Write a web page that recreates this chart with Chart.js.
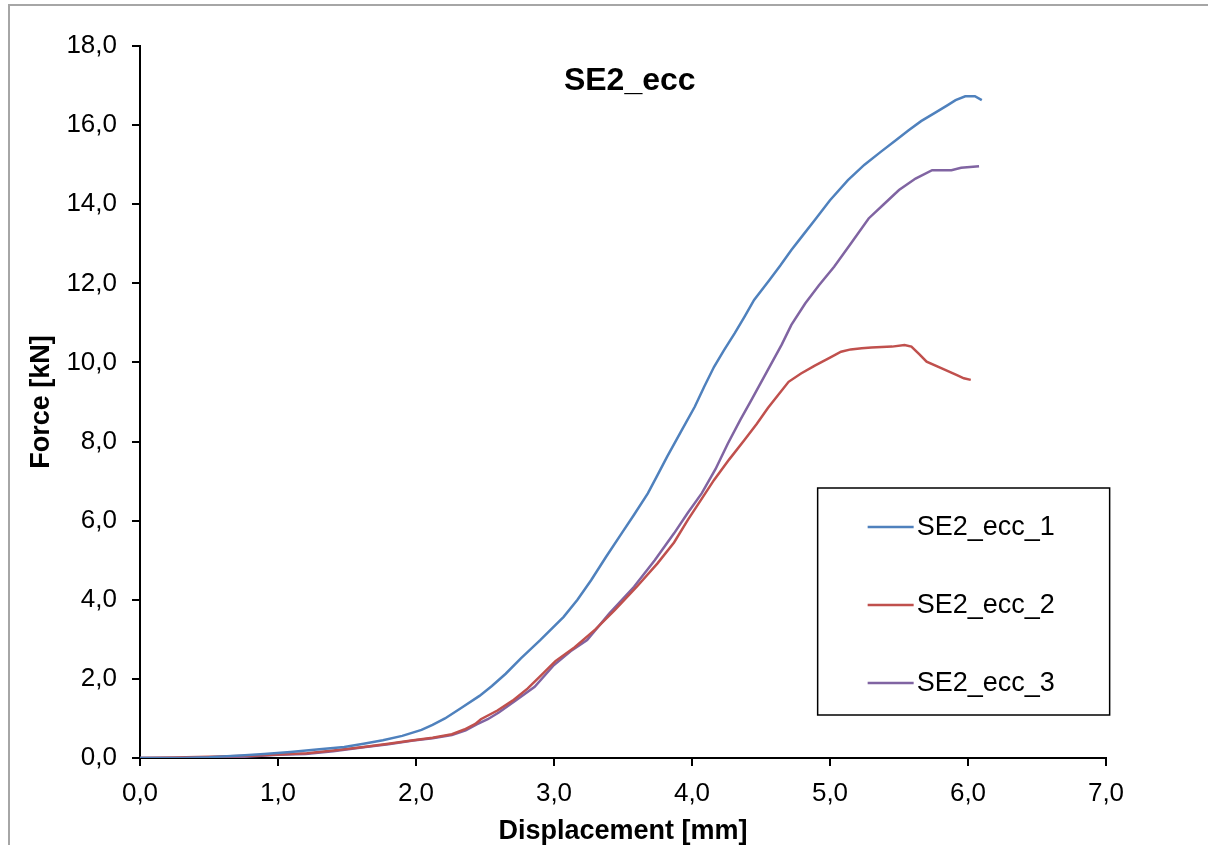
<!DOCTYPE html>
<html>
<head>
<meta charset="utf-8">
<script src="https://cdn.jsdelivr.net/npm/chart.js@4.4.1/dist/chart.umd.min.js"></script>
<style>
  html, body { margin: 0; padding: 0; background: #fff; }
  #wrap { position: relative; width: 1208px; height: 845px; overflow: hidden; }
  #frame { position: absolute; left: 8px; top: 4px; width: 1300px; height: 1000px; border-left: 2px solid #a6a6a6; border-top: 2px solid #a6a6a6; box-sizing: border-box; pointer-events: none; }
  canvas { position: absolute; left: 0; top: 0; }
</style>
</head>
<body>
<div id="wrap">
  <canvas id="c" width="1208" height="845"></canvas>
  <div id="frame"></div>
</div>
<script>
// ---- data ----
const chartTitle = "SE2_ecc";
const seriesNames = ["SE2_ecc_1", "SE2_ecc_2", "SE2_ecc_3"];
const seriesColors = ["#4F81BD", "#C0504D", "#8064A2"];
const xTitle = "Displacement [mm]";
const yTitle = "Force [kN]";

const disp1 = [0.00,0.30,0.50,0.76,0.90,1.09,1.30,1.48,1.62,1.76,1.90,2.04,2.12,2.21,2.33,2.46,2.55,2.65,2.76,2.90,3.07,3.17,3.27,3.38,3.49,3.58,3.68,3.75,3.82,3.92,4.02,4.09,4.16,4.23,4.31,4.38,4.45,4.56,4.64,4.72,4.80,4.89,5.00,5.13,5.25,5.37,5.47,5.57,5.66,5.76,5.85,5.91,5.98,6.05,6.10];
const force1 = [0.00,0.00,0.02,0.07,0.10,0.15,0.22,0.28,0.36,0.45,0.56,0.71,0.84,1.00,1.27,1.57,1.82,2.13,2.52,2.98,3.57,4.00,4.50,5.10,5.68,6.15,6.69,7.15,7.62,8.25,8.88,9.40,9.89,10.30,10.74,11.15,11.58,12.08,12.45,12.84,13.20,13.60,14.10,14.61,15.00,15.33,15.60,15.87,16.10,16.31,16.50,16.63,16.73,16.73,16.63];

const disp2 = [0.00,0.25,0.50,0.80,1.00,1.21,1.40,1.62,1.80,1.98,2.12,2.26,2.35,2.43,2.47,2.59,2.70,2.81,2.91,3.01,3.15,3.30,3.44,3.60,3.75,3.87,3.97,4.07,4.16,4.27,4.38,4.47,4.55,4.63,4.70,4.79,4.89,5.00,5.08,5.15,5.23,5.30,5.45,5.54,5.59,5.65,5.70,5.81,5.92,5.97,6.02];
const force2 = [0.00,0.01,0.03,0.06,0.09,0.12,0.19,0.28,0.36,0.45,0.51,0.60,0.72,0.86,0.98,1.20,1.45,1.76,2.10,2.45,2.80,3.25,3.74,4.33,4.92,5.45,6.02,6.55,7.03,7.55,8.04,8.45,8.85,9.20,9.51,9.72,9.92,10.12,10.27,10.33,10.36,10.38,10.40,10.44,10.40,10.20,10.02,9.85,9.68,9.60,9.56];

const disp3 = [0.00,0.30,0.55,0.75,1.00,1.20,1.40,1.62,1.80,1.98,2.12,2.26,2.36,2.44,2.52,2.60,2.72,2.86,3.00,3.12,3.24,3.40,3.58,3.73,3.87,3.97,4.07,4.17,4.26,4.35,4.43,4.54,4.65,4.72,4.82,4.92,5.03,5.15,5.28,5.39,5.50,5.62,5.74,5.88,5.95,6.08];
const force3 = [0.00,0.00,0.02,0.03,0.08,0.10,0.17,0.27,0.35,0.44,0.50,0.58,0.70,0.85,0.98,1.15,1.45,1.80,2.35,2.70,2.98,3.65,4.33,5.00,5.68,6.20,6.69,7.30,7.95,8.55,9.05,9.75,10.45,10.95,11.49,11.95,12.42,13.00,13.64,14.00,14.36,14.65,14.86,14.86,14.92,14.96];

const xMin = 0, xMax = 7, xStep = 1;
const yMin = 0, yMax = 18, yStep = 2;

// ---- build ----
const FONT = "'Liberation Sans', Arial, sans-serif";
function pts(xs, ys) { return xs.map((x, i) => ({ x: x, y: ys[i] })); }
const allX = [disp1, disp2, disp3];
const allY = [force1, force2, force3];
const datasets = seriesNames.map((n, i) => ({
  label: n,
  data: pts(allX[i], allY[i]),
  borderColor: seriesColors[i],
  backgroundColor: seriesColors[i],
  borderWidth: 2.5,
  pointRadius: 0,
  showLine: true,
  tension: 0
}));
const fmt = v => Number(v).toFixed(1).replace('.', ',');

const titlePlugin = {
  id: 'inTitle',
  afterDraw(chart) {
    const ctx = chart.ctx, a = chart.chartArea;
    ctx.save();
    ctx.font = "bold 32px " + FONT;
    ctx.fillStyle = "#000";
    ctx.textAlign = "center";
    ctx.textBaseline = "middle";
    ctx.fillText(chartTitle, a.left + (a.right - a.left) * 0.507, a.top + 35);
    ctx.restore();
  }
};

const legendPlugin = {
  id: 'boxLegend',
  afterDraw(chart) {
    const ctx = chart.ctx, a = chart.chartArea;
    const bx = a.left + (a.right - a.left) * 0.7015, by = a.top + 442, bw = 292, bh = 227;
    ctx.save();
    ctx.strokeStyle = "#000";
    ctx.lineWidth = 1.5;
    ctx.strokeRect(bx, by, bw, bh);
    ctx.font = "27px " + FONT;
    ctx.textBaseline = "middle";
    ctx.textAlign = "left";
    chart.data.datasets.forEach((ds, i) => {
      const y = by + 39 + i * 78;
      ctx.strokeStyle = ds.borderColor;
      ctx.lineWidth = 2.5;
      ctx.beginPath();
      ctx.moveTo(bx + 50, y);
      ctx.lineTo(bx + 96, y);
      ctx.stroke();
      ctx.fillStyle = "#000";
      ctx.fillText(ds.label, bx + 99, y + 1);
    });
    ctx.restore();
  }
};

new Chart(document.getElementById('c'), {
  type: 'scatter',
  data: { datasets: datasets },
  options: {
    responsive: false,
    animation: false,
    devicePixelRatio: 1,
    layout: { padding: { left: 8, top: 46, right: 102, bottom: 0 } },
    plugins: { legend: { display: false }, title: { display: false }, tooltip: { enabled: false } },
    scales: {
      x: {
        type: 'linear', min: xMin, max: xMax,
        ticks: { stepSize: xStep, callback: fmt, color: '#000', font: { family: FONT, size: 26 }, padding: 12, maxRotation: 0 },
        grid: { drawOnChartArea: false, drawTicks: true, tickLength: 8, color: '#000', lineWidth: 2 },
        border: { color: '#000', width: 2 },
        title: { display: true, text: xTitle, color: '#000', font: { family: FONT, size: 27, weight: 'bold', lineHeight: 1 }, padding: { top: 0, bottom: 0 } },
        afterFit(s) { s.height = 87; }
      },
      y: {
        type: 'linear', min: yMin, max: yMax,
        ticks: { stepSize: yStep, callback: fmt, color: '#000', font: { family: FONT, size: 26 }, padding: 15 },
        grid: { drawOnChartArea: false, drawTicks: true, tickLength: 8, color: '#000', lineWidth: 2 },
        border: { color: '#000', width: 2 },
        title: { display: true, text: yTitle, color: '#000', font: { family: FONT, size: 27, weight: 'bold', lineHeight: 1 }, padding: { top: 20, bottom: 0 } },
        afterFit(s) { s.width = 132; }
      }
    }
  },
  plugins: [titlePlugin, legendPlugin]
});
</script>
</body>
</html>
